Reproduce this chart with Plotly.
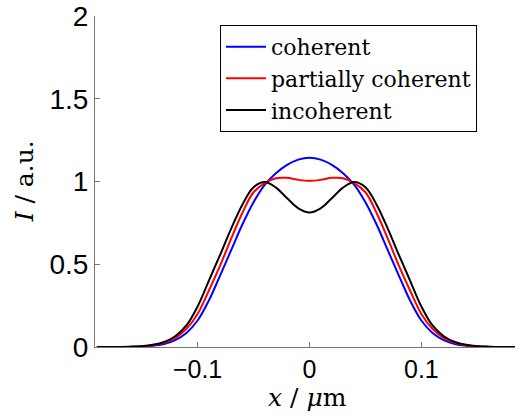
import plotly.graph_objects as go

# sampled positions (µm)
x_um = [-0.19, -0.18, -0.17, -0.16, -0.15, -0.14, -0.13, -0.12, -0.11, -0.10,
        -0.09, -0.08, -0.07, -0.06, -0.05, -0.04, -0.03, -0.02, -0.01, 0.00,
        0.01, 0.02, 0.03, 0.04, 0.05, 0.06, 0.07, 0.08, 0.09, 0.10,
        0.11, 0.12, 0.13, 0.14, 0.15, 0.16, 0.17, 0.18, 0.19]

coherent = [0.0, 0.0, 0.0, 0.0005, 0.002, 0.007, 0.018, 0.042, 0.085, 0.16,
            0.28, 0.43, 0.585, 0.74, 0.875, 0.98, 1.05, 1.10, 1.132, 1.143,
            1.132, 1.10, 1.05, 0.98, 0.875, 0.74, 0.585, 0.43, 0.28, 0.16,
            0.085, 0.042, 0.018, 0.007, 0.002, 0.0005, 0.0, 0.0, 0.0]

partially = [0.0, 0.0, 0.0, 0.001, 0.004, 0.01, 0.025, 0.055, 0.11, 0.20,
             0.34, 0.49, 0.655, 0.81, 0.935, 0.99, 1.02, 1.022, 1.01, 1.004,
             1.01, 1.022, 1.02, 0.99, 0.935, 0.81, 0.655, 0.49, 0.34, 0.20,
             0.11, 0.055, 0.025, 0.01, 0.004, 0.001, 0.0, 0.0, 0.0]

incoherent = [0.0, 0.0, 0.0005, 0.002, 0.005, 0.013, 0.03, 0.065, 0.13, 0.245,
              0.40, 0.555, 0.715, 0.86, 0.965, 0.997, 0.963, 0.899, 0.838, 0.813,
              0.838, 0.899, 0.963, 0.997, 0.965, 0.86, 0.715, 0.555, 0.40, 0.245,
              0.13, 0.065, 0.03, 0.013, 0.005, 0.002, 0.0005, 0.0, 0.0]

names = ["coherent", "partially coherent", "incoherent"]
colors = ["#0000ff", "#ff0000", "#000000"]
x_ticks = [-0.1, 0, 0.1]
x_ticklabels = ["\u22120.1", "0", "0.1"]
y_ticks = [0, 0.5, 1, 1.5, 2]
y_ticklabels = ["0", "0.5", "1", "1.5", "2"]

fig = go.Figure()
for name, ys, c in zip(names, [coherent, partially, incoherent], colors):
    fig.add_trace(go.Scatter(x=x_um, y=ys, mode="lines", name=name,
                             line=dict(color=c, width=2, shape="spline", smoothing=1.0)))

axis_col = "#777777"
fig.update_layout(
    width=515, height=417,
    margin=dict(l=95, r=0, t=16, b=70, autoexpand=False),
    paper_bgcolor="white", plot_bgcolor="white",
    showlegend=True,
    legend=dict(x=0.2976, y=0.973, xanchor="left", yanchor="top",
                bordercolor="black", borderwidth=1, bgcolor="white",
                font=dict(family="DejaVu Serif", size=22, color="black"),
                itemwidth=40, tracegroupgap=0),
    xaxis=dict(range=[-0.1917, 0.1837], showgrid=False, zeroline=False,
               automargin=False,
               showline=True, linecolor=axis_col, linewidth=1,
               ticks="inside", ticklen=5, tickcolor=axis_col,
               tickvals=x_ticks, ticktext=x_ticklabels,
               tickfont=dict(family="Liberation Sans", size=25, color="black")),
    yaxis=dict(range=[0, 2], showgrid=False, zeroline=False,
               automargin=False,
               showline=True, linecolor=axis_col, linewidth=1,
               ticks="inside", ticklen=5, tickcolor=axis_col,
               tickvals=y_ticks, ticktext=y_ticklabels,
               tickfont=dict(family="Liberation Sans", size=28, color="black")),
    annotations=[
        dict(text="<i>x</i> / <i>\u03bc</i>m", xref="paper", yref="paper",
             x=0.507, y=-0.152, xanchor="center", yanchor="middle", showarrow=False,
             font=dict(family="DejaVu Serif", size=25, color="black")),
        dict(text="<i>I</i> / a.u.", xref="paper", yref="paper",
             x=-0.167, y=0.5, xanchor="center", yanchor="middle", showarrow=False,
             textangle=-90,
             font=dict(family="DejaVu Serif", size=25, color="black")),
    ],
)

fig.write_html("out.html",
               config={"displayModeBar": False},
               post_script="document.body.style.margin='0';document.body.style.overflow='hidden';")
